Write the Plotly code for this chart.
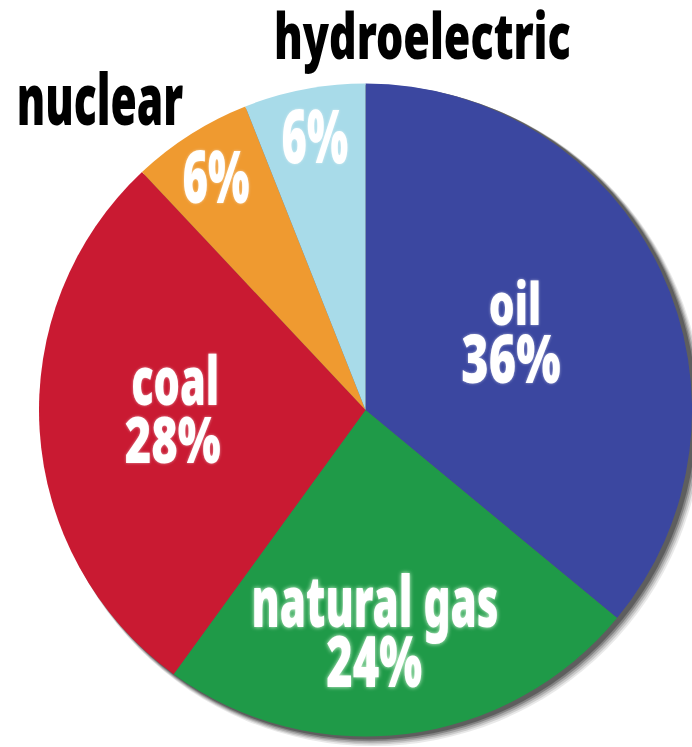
import json
import plotly.graph_objects as go

# ---- data ----
sources = ["oil", "natural gas", "coal", "nuclear", "hydroelectric"]
shares = [36, 24, 28, 6, 6]
colors = ["#3b47a0", "#1f9a48", "#c91a32", "#ef9a30", "#a8dbe9"]

W, H = 692, 747
FONT = "Noto Sans, DejaVu Sans, sans-serif"

# pie geometry in pixels
cx, cy, r = 366, 410, 327

fig = go.Figure()
fig.add_trace(go.Pie(
    labels=sources, values=shares, sort=False, direction="clockwise",
    rotation=0, marker=dict(colors=colors, line=dict(width=0)),
    textinfo="none", hole=0, showlegend=False, hoverinfo="label+percent",
    domain=dict(x=[(cx - r) / W, min(1, (cx + r) / W)],
                y=[1 - (cy + r) / H, 1 - (cy - r) / H]),
))

# soft drop shadow behind the pie
shapes = []
for i, (off, op) in enumerate([(8, 0.10), (7, 0.15), (6, 0.20), (5, 0.30), (4, 0.40)]):
    sx, sy = cx + off - 1, cy + off - 2
    rr = r + (5 - i) * 0.6
    shapes.append(dict(type="circle", xref="paper", yref="paper", layer="below",
                       x0=(sx - rr) / W, x1=(sx + rr) / W,
                       y0=1 - (sy + rr) / H, y1=1 - (sy - rr) / H,
                       fillcolor=f"rgba(40,40,40,{op})", line=dict(width=0)))

# label styling: (centre x px, centre y px, font size, horizontal squeeze)
name_style = {"oil": (515, 302, 59, 0.69), "natural gas": (375, 599, 71, 0.594),
              "coal": (175, 378, 68, 0.61), "nuclear": (100, 98, 70, 0.608),
              "hydroelectric": (423, 34, 63, 0.683)}
pct_style = {"oil": (511, 357, 67, 0.70), "natural gas": (374, 660, 70, 0.646),
             "coal": (173, 438, 63, 0.72), "nuclear": (216, 174, 73, 0.60),
             "hydroelectric": (315, 134, 74, 0.587)}
outside = {"nuclear", "hydroelectric"}

annotations = []
squeeze = []
for s, v in zip(sources, shares):
    glow = ("0px 0px 5px rgba(230,255,230,0.95)" if s == "natural gas"
            else "0px 0px 3px rgba(255,255,255,0.55)")
    x, y, sz, k = name_style[s]
    col = "#000000" if s in outside else "#ffffff"
    f = dict(family=FONT, size=sz, color=col, weight=900)
    if s not in outside:
        f["shadow"] = glow
    annotations.append(dict(text=s, x=x / W, y=1 - y / H, xref="paper", yref="paper",
                            showarrow=False, xanchor="center", yanchor="middle", font=f))
    squeeze.append(k)
    x, y, sz, k = pct_style[s]
    annotations.append(dict(text=f"{v}%", x=x / W, y=1 - y / H, xref="paper", yref="paper",
                            showarrow=False, xanchor="center", yanchor="middle",
                            font=dict(family=FONT, size=sz, color="#ffffff", weight=900,
                                      shadow=glow)))
    squeeze.append(k)

fig.update_layout(width=W, height=H, margin=dict(l=0, r=0, t=0, b=0),
                  paper_bgcolor="white", plot_bgcolor="white",
                  shapes=shapes, annotations=annotations)

post = """
var st = document.createElement('style');
st.innerHTML = 'body{margin:0 !important;}';
document.head.appendChild(st);
var ks = %s;
var gd = document.getElementById('{plot_id}');
function squeezeText(){
  ks.forEach(function(k, i){
    var g = gd.querySelector('g.annotation[data-index="' + i + '"] text.annotation-text');
    if (g) {
      g.style.transformBox = 'fill-box';
      g.style.transformOrigin = 'center';
      g.style.transform = 'scaleX(' + k + ')';
    }
  });
}
squeezeText();
setTimeout(squeezeText, 0);
if (gd.on) gd.on('plotly_afterplot', squeezeText);
""" % json.dumps(squeeze)

fig.write_html("out.html", post_script=post, config={"displayModeBar": False})
